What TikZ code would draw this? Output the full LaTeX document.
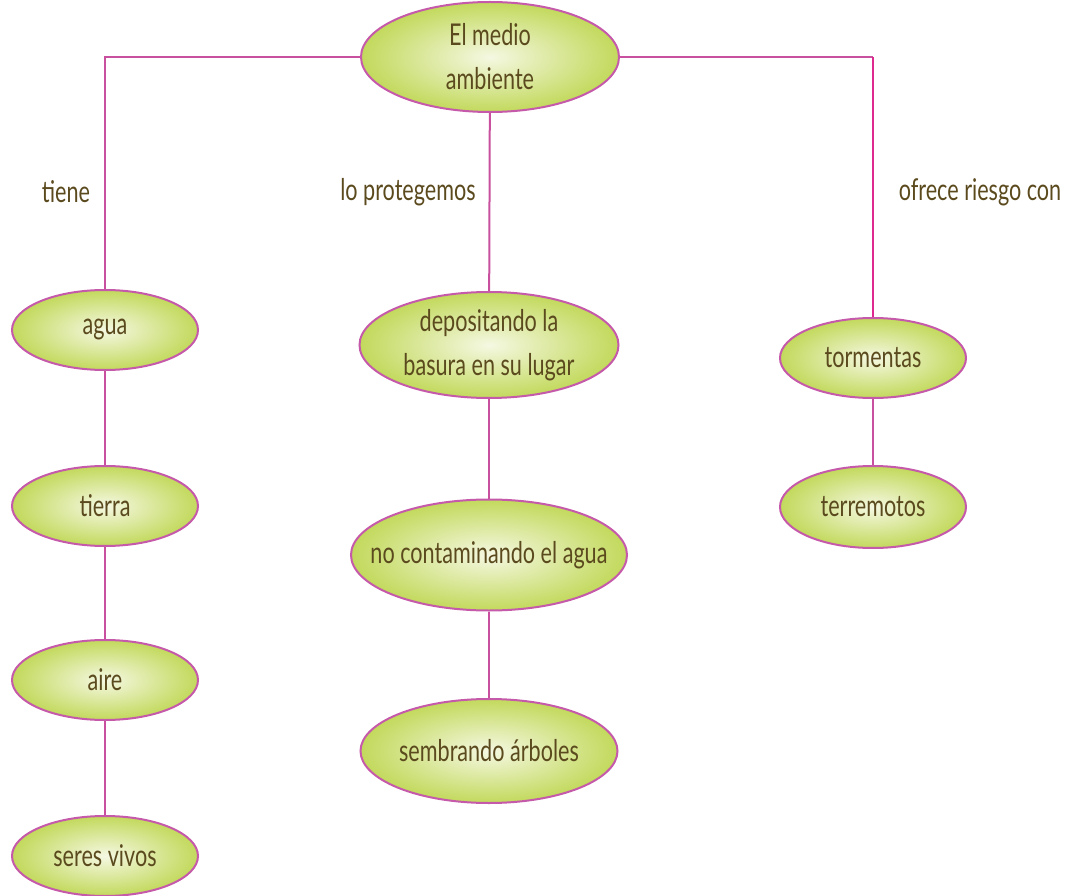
\documentclass[tikz,border=0pt]{standalone}
\usepackage{fontspec}
\setmainfont[FakeStretch=0.72]{Lato}
\usepackage{xcolor}
\usepackage{tikz}
\usetikzlibrary{shapes.geometric, positioning}
\definecolor{rim}{HTML}{C65AAA}
\definecolor{wire}{HTML}{C8509E}
\definecolor{wireR}{HTML}{DE2A8E}
\definecolor{pale}{HTML}{F5F8E2}
\definecolor{lime}{HTML}{C2D95C}
\definecolor{ink}{HTML}{5B4A1E}

\begin{document}
\begin{tikzpicture}[x=1pt,y=-1pt,
  bubble/.style={ellipse, draw=rim, line width=2pt, inner color=pale, outer color=lime,
    minimum width=186pt, minimum height=80pt, inner sep=0pt},
  txt/.style={font=\fontsize{30}{44}\selectfont, text=ink, align=center},
  link/.style={draw=wire, line width=2pt},
  note/.style={font=\fontsize{30}{44}\selectfont, text=ink, inner sep=0pt}]
\useasboundingbox (0,0) rectangle (1069,896);
% concepto central
\node[bubble, minimum width=258pt, minimum height=110pt, label={[txt]center:El medio\\ambiente}] (medio) at (490,57) {};
% rama izquierda
\node[bubble, label={[txt]center:agua}] (agua) at (105,330) {};
\node[bubble, label={[txt]center:tierra}] (tierra) at (105,506) {};
\node[bubble, label={[txt]center:aire}] (aire) at (105,680) {};
\node[bubble, label={[txt]center:seres vivos}] (seres) at (105,856) {};
% rama central
\node[bubble, minimum width=259pt, minimum height=106pt, label={[txt]center:depositando la\\basura en su lugar}] (basura) at (489,345) {};
\node[bubble, minimum width=276pt, minimum height=111pt, label={[txt]center:no contaminando el agua}] (noagua) at (489,555) {};
\node[bubble, minimum width=257pt, minimum height=104pt, label={[txt]center:sembrando árboles}] (arboles) at (489,751) {};
% rama derecha
\node[bubble, label={[txt]center:tormentas}] (torm) at (873,358) {};
\node[bubble, minimum height=82pt, label={[txt]center:terremotos}] (terre) at (873,507) {};
% etiquetas
\node[note] (tiene) at (66,192) {tiene};
\node[note] (protege) at (408,192) {lo protegemos};
\node[note] (riesgo) at (980,192) {ofrece riesgo con};
% conectores
\path[link] (medio.west) -| (agua);
\path[link] (agua) -- (tierra);
\path[link] (tierra) -- (aire);
\path[link] (aire) -- (seres);
\path[link] (medio) -- (basura);
\path[link] (basura) -- (noagua);
\path[link] (noagua) -- (arboles);
\path[link] (medio.east) -- (873,57) coordinate (esq);
\path[link, draw=wireR] (esq) -- (torm);
\path[link] (torm) -- (terre);
\end{tikzpicture}
\end{document}
